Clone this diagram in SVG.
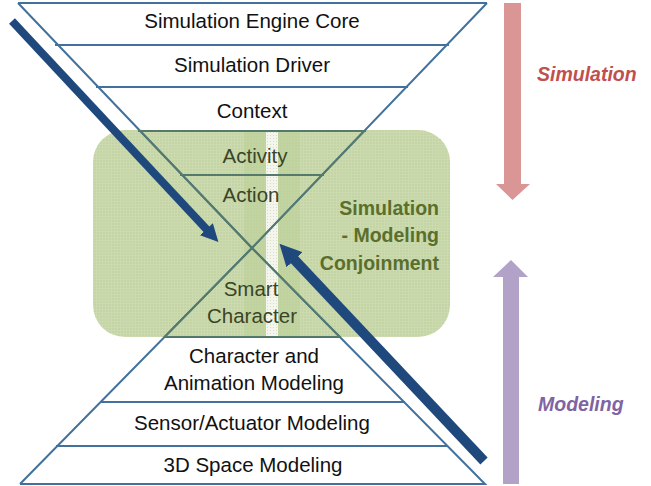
<svg xmlns="http://www.w3.org/2000/svg" width="651" height="486" viewBox="0 0 651 486">
  <style>
    .edge { fill: none; stroke: #41719c; stroke-width: 2; }
    .edge-in { fill: none; stroke: #557a6c; stroke-width: 2; }
    .lbl { font-family: "Liberation Sans", Arial, sans-serif; font-size: 20.5px; fill: #111111; text-anchor: middle; }
    .lbl-in { font-family: "Liberation Sans", Arial, sans-serif; font-size: 20.5px; fill: #3a4526; text-anchor: middle; }
    .conj { font-family: "Liberation Sans", Arial, sans-serif; font-size: 19.5px; font-weight: bold; fill: #5b6f2c; text-anchor: end; }
    .side { font-family: "Liberation Sans", Arial, sans-serif; font-size: 19.5px; font-weight: bold; font-style: italic; }
    .flow { stroke: #1f497d; fill: none; }
  </style>
  <defs>
    <pattern id="weave" width="3" height="3" patternUnits="userSpaceOnUse">
      <rect width="3" height="3" fill="#c4d4a4"/>
      <rect width="3" height="1" fill="#ccdab0"/>
      <rect width="1" height="3" fill="#ccdab0"/>
    </pattern>
    <pattern id="dots" width="3" height="3" patternUnits="userSpaceOnUse">
      <rect width="3" height="3" fill="#f4f6ee"/>
      <rect width="1" height="1" fill="#d6dfc6"/>
    </pattern>
    <clipPath id="panel">
      <rect x="93" y="130" width="357" height="207" rx="32"/>
    </clipPath>
    <!-- hourglass outline and layer dividers -->
    <g id="hourglass-lines">
      <path d="M18,3 L487,3 M18,3 L252,248 L487,3 M20,484 L252,248 L485,484 L20,484"/>
      <path d="M55,45 H449 M96,87 H408 M138,131 H366 M180,175 H324"/>
      <path d="M164,337 H341 M100,402 H405 M56,446 H448"/>
    </g>
    <marker id="tipBlue" viewBox="0 0 10 10" refX="3" refY="5" markerWidth="2.2" markerHeight="2.2" orient="auto" markerUnits="strokeWidth">
      <path d="M0,0 L10,5 L0,10 Z" fill="#1f497d"/>
    </marker>
  </defs>

  <rect width="651" height="486" fill="#ffffff"/>

  <!-- conjoinment panel -->
  <g id="conjoinment-panel">
    <rect x="93" y="130" width="357" height="207" rx="32" fill="url(#weave)"/>
    <rect x="244" y="131" width="56" height="206" fill="#b9cd95" opacity="0.5"/>
    <rect x="266" y="131" width="12" height="206" fill="url(#dots)"/>
  </g>

  <!-- outline drawn blue outside the panel, muted inside it -->
  <use href="#hourglass-lines" class="edge"/>
  <use href="#hourglass-lines" class="edge-in" clip-path="url(#panel)"/>

  <g id="layer-engine-core"><text class="lbl" x="252" y="28">Simulation Engine Core</text></g>
  <g id="layer-driver"><text class="lbl" x="252" y="72">Simulation Driver</text></g>
  <g id="layer-context"><text class="lbl" x="252" y="118">Context</text></g>
  <g id="layer-activity"><text class="lbl-in" x="255" y="163">Activity</text></g>
  <g id="layer-action"><text class="lbl-in" x="251" y="202">Action</text></g>
  <g id="layer-smart-character">
    <text class="lbl-in" x="251" y="296">Smart</text>
    <text class="lbl-in" x="252" y="323">Character</text>
  </g>
  <g id="layer-char-animation">
    <text class="lbl" x="254" y="363">Character and</text>
    <text class="lbl" x="254" y="390">Animation Modeling</text>
  </g>
  <g id="layer-sensor"><text class="lbl" x="252" y="430">Sensor/Actuator Modeling</text></g>
  <g id="layer-space"><text class="lbl" x="253" y="472">3D Space Modeling</text></g>

  <g id="conjoinment-label">
    <text class="conj" x="439" y="215">Simulation</text>
    <text class="conj" x="439" y="242">- Modeling</text>
    <text class="conj" x="439" y="270">Conjoinment</text>
  </g>

  <!-- direction arrows -->
  <g id="connectors">
    <path class="flow" d="M12,21 L210,233" stroke-width="8" marker-end="url(#tipBlue)"/>
    <path class="flow" d="M484,461 L290,255" stroke-width="10" marker-end="url(#tipBlue)"/>
    <polygon points="504,3 521,3 521,184 530,184 512.5,200 496,184 504,184" fill="#d99694"/>
    <polygon points="503,484 519,484 519,277 528,277 511,260 493,277 503,277" fill="#b3a2c7"/>
  </g>

  <g id="label-simulation"><text class="side" x="537" y="81" fill="#c0504d">Simulation</text></g>
  <g id="label-modeling"><text class="side" x="538" y="411" fill="#8064a2">Modeling</text></g>
</svg>
